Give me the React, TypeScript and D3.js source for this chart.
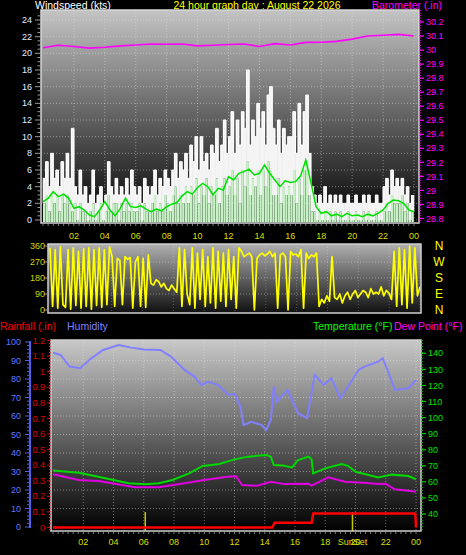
import React from 'react';
import * as d3 from 'd3';

// ---------- DATA ----------
// wind gust (kts), 10-minute samples from 00:00
const windGust = [
  5,7,4,8,5,6, 4,7,5,8,5,11, 4,3,6,3,4,2, 3,6,2,3,4,2, 3,7,4,3,5,3, 4,3,5,3,6,4,
  3,4,2,5,4,3, 4,6,3,5,4,6, 5,4,6,8,5,7, 6,8,5,9,7,10, 6,10,7,8,6,9, 8,11,7,9,12,8,
  10,13,8,12,9,13, 11,18,9,12,10,14, 11,13,9,15,16,11, 9,12,8,11,9,10, 10,13,8,14,9,13, 15,8,4,3,2,3,
  2,4,2,3,2,3, 2,3,2,2,3,2, 2,3,2,2,3,2, 3,2,2,3,2,2, 4,5,3,6,4,5, 4,5,3,4,2,3,
];
// wind speed (kts), 10-minute samples
const windSpeed = [
  2,3,1,3,2,3, 1,3,2,3,2,1, 2,0,2,1,1,0, 1,2,0,1,2,0, 1,3,1,2,2,0, 2,1,2,1,2,1,
  1,2,0,2,1,1, 2,3,1,2,1,3, 2,1,3,4,2,3, 2,4,2,4,3,5, 2,4,3,5,2,4, 3,5,2,4,5,3,
  4,6,3,5,2,6, 4,7,3,5,4,6, 3,6,4,7,6,3, 3,5,2,4,3,4, 3,6,2,5,3,6, 7,3,1,1,0,1,
  0,1,0,1,0,1, 0,1,0,0,1,0, 0,1,0,0,1,0, 1,0,0,1,0,0, 1,2,1,3,2,2, 2,3,1,2,0,1,
];
// 10-minute average wind (kts), 20-minute samples
const windAvg = [
  2.2,2.6,3.4,2.8,3.1,2.6,1.4,1.6,1.2,0.6,0.4,1.2,2.2,1.2,0.5,1.4,2.6,1.6,
  1.5,1.7,1.3,1.0,1.3,1.1,1.6,1.9,2.1,2.9,3.4,3.1,3.9,4.4,4.0,3.0,3.8,3.6,
  5.2,4.8,5.6,5.8,6.1,5.4,5.6,6.6,5.6,4.8,4.0,4.7,4.5,4.6,5.3,7.2,4.5,1.6,
  0.8,1.0,0.5,0.7,0.4,0.8,0.5,0.6,0.4,0.7,0.5,0.8,1.2,2.0,2.4,2.3,2.0,1.2,1.0,
];
// barometer (in), hourly
const baro = [
  30.016,30.034,30.026,30.014,30.02,30.03,30.036,30.043,30.042,30.043,30.03,30.034,30.04,
  30.043,30.026,30.046,30.036,30.055,30.056,30.062,30.078,30.1,30.106,30.112,30.1,
];
// wind direction (deg), 10-minute samples
const windDir = [
  350,20,340,10,355,30, 15,340,5,350,25,330, 10,345,20,350,5,340, 25,350,15,340,30,355,
  300,20,290,280,30,300, 285,295,10,270,300,20, 290,15,310,150,140,170, 160,130,150,120,110,140,
  120,100,350,20,340,90, 30,350,10,320,60,340, 20,300,40,350,10,330, 50,320,20,340,60,300,
  10,350,330,300,310,320, 300,0,290,310,320,305, 315,330,300,320,10,310, 320,300,0,330,310,315,
  300,340,10,320,290,310, 300,320,20,60,40,80, 50,300,70,60,90,40, 80,100,60,90,110,70,
  90,110,100,70,120,90, 100,90,130,80,110,95, 60,330,20,350,30,340, 10,360,40,350,80,130,
];
// humidity (%)
const humTimes = [0,0.5,1.1,1.8,2.4,3.3,4.35,5.1,6,7.1,7.8,8.7,9.35,9.8,10.25,10.9,11.6,12,12.4,12.6,13.1,13.8,14.1,14.4,14.6,14.8,15.5,16.2,16.8,17.3,17.9,18.4,19,19.5,20.2,20.6,21.5,21.8,22.2,22.6,23.5,24];
const humValues = [94.2,93,86.7,85.8,90.3,95.7,98.4,97.1,96,95.7,92.1,84.9,81.3,76.8,78.5,76.8,71.4,72,65,55.1,56.9,55.1,52.4,57.8,75.8,67.7,74.1,61.5,58.8,82.2,76.8,80.4,69.6,75.8,84.9,86.7,89.4,91.2,83.1,74.1,75,79.5];
// temperature (F)
const tempTimes = [0,1.7,3,5,6.1,7,7.9,9,9.9,11,12,12.9,13.5,14.15,14.4,14.6,15.2,15.8,16.2,16.9,17.1,17.2,18,19.1,19.5,20,21,21.5,22.4,23.5,24];
const tempValues = [67,65.7,63.2,59.1,58.5,59.1,61.2,65.3,69.9,71.1,74,75.7,76.2,76.7,75.5,70.5,70.2,69,73.6,75.7,74,65.3,68.4,71.1,70,66.3,64,62.8,64.5,63.6,61.6];
// dew point (F)
const dewTimes = [0,1.7,3,3.9,5.4,7,8.7,10,11.5,12.1,12.5,13.5,14.4,15.3,16.9,17.1,18.2,19.3,20.5,21.5,22,22.6,23.5,24];
const dewValues = [64.7,61.2,60.5,59.1,56.6,56.6,59.1,61.2,63.2,63.5,58,57.6,60.1,58.6,58.8,57.6,62.8,60.1,59.5,58.6,58.8,55.4,54.5,53.9];
// rainfall (in)
const rainTimes = [0,14.5,14.65,17.1,17.2,23.95,24];
const rainValues = [0,0,0.03,0.03,0.09,0.09,0];

const hourLabels = ['02','04','06','08','10','12','14','16','18','20','22','00'];
const windTicks = [0,2,4,6,8,10,12,14,16,18,20,22,24];
const baroTicks = [28.8,28.9,29,29.1,29.2,29.3,29.4,29.5,29.6,29.7,29.8,29.9,30,30.1,30.2];
const dirTicks = [0,90,180,270,360];
const compass = ['N','E','S','W','N'];
const humTicks = [0,10,20,30,40,50,60,70,80,90,100];
const rainTicks = [0,0.1,0.2,0.3,0.4,0.5,0.6,0.7,0.8,0.9,1,1.1,1.2];
const tempTicks = [40,50,60,70,80,90,100,110,120,130,140];
const sunrise = 6.1;
const sunset = 19.8;

const FONT = 'Liberation Sans, Arial, sans-serif';

export default function App() {
  // scales
  const xW = d3.scaleLinear().domain([0, 24]).range([43, 414]);
  const yW = d3.scaleLinear().domain([0, 24]).range([220, 20]);
  const yB = d3.scaleLinear().domain([28.8, 30.2]).range([218.5, 22]);
  const xD = d3.scaleLinear().domain([0, 24]).range([50, 420]);
  const yD = d3.scaleLinear().domain([0, 360]).range([310, 246]);
  const xT = d3.scaleLinear().domain([0, 24]).range([53, 416]);
  const yH = d3.scaleLinear().domain([0, 100]).range([527, 342]);
  const yR = d3.scaleLinear().domain([0, 1.2]).range([527.5, 340.5]);
  const yT = d3.scaleLinear().domain([40, 140]).range([514, 353.3]);

  const step = xW(1 / 6) - xW(0);
  const hours2 = d3.range(2, 25, 2);

  const gustLine = d3.line<number>().curve(d3.curveStepAfter).x((_, i) => xW(i / 6)).y(d => yW(d))(windGust) || '';
  const avgLine = d3.line<number>().x((_, i) => xW(i / 3)).y(d => yW(d))(windAvg) || '';
  const baroLine = d3.line<number>().x((_, i) => xW(i)).y(d => yB(d))(baro) || '';
  const dirLine = d3.line<number>().x((_, i) => xD((i * 24) / (windDir.length - 1))).y(d => yD(d))(windDir) || '';
  const pairLine = (ts: number[], vs: number[], ys: d3.ScaleLinear<number, number>) =>
    d3.line<number>().x((_, i) => xT(ts[i])).y(d => ys(d))(vs) || '';
  const humLine = pairLine(humTimes, humValues, yH);
  const tempLine = pairLine(tempTimes, tempValues, yT);
  const dewLine = pairLine(dewTimes, dewValues, yT);
  const rainLine = pairLine(rainTimes, rainValues, yR);

  const gridStroke = 'rgba(230,230,230,0.45)';

  return (
    <svg width={466} height={555} style={{ position: 'absolute', left: 0, top: 0, background: '#000' }} fontFamily={FONT}>
      <defs>
        <linearGradient id="gW" x1="0" y1="0" x2="0" y2="1">
          <stop offset="0" stopColor="#c4c4c4" />
          <stop offset="1" stopColor="#000" />
        </linearGradient>
        <linearGradient id="gD" x1="0" y1="0" x2="0" y2="1">
          <stop offset="0" stopColor="#b0b0b0" />
          <stop offset="1" stopColor="#101010" />
        </linearGradient>
        <linearGradient id="gB" x1="0" y1="0" x2="0" y2="1">
          <stop offset="0" stopColor="#c8c8c8" />
          <stop offset="1" stopColor="#000" />
        </linearGradient>
      </defs>
      <rect x={0} y={0} width={466} height={555} fill="#000" />

      {/* ---------- headers ---------- */}
      <text x={35} y={8.5} fontSize={10.5} fill="#fff">Windspeed (kts)</text>
      <text x={257} y={8.5} fontSize={10.5} fill="#ffff00" textAnchor="middle">24 hour graph day : August 22 2026</text>
      <text x={372} y={8.5} fontSize={10.5} fill="#ff00ff">Barometer (.in)</text>

      {/* ---------- wind panel ---------- */}
      <rect x={41} y={10} width={378} height={213} fill="url(#gW)" />
      {windTicks.map(v => (
        <line key={'wg' + v} x1={41} x2={419} y1={yW(v)} y2={yW(v)} stroke={gridStroke} strokeDasharray="1,2" />
      ))}
      {hours2.map(h => (
        <line key={'wv' + h} x1={xW(h)} x2={xW(h)} y1={10} y2={223} stroke={gridStroke} strokeDasharray="1,2" />
      ))}
      {windGust.map((g, i) => (
        <rect key={'gu' + i} x={xW(i / 6) - 0.3} width={step + 0.6} y={yW(g)} height={Math.max(0, yW(windSpeed[i]) - yW(g))} fill="#f4f4f4" />
      ))}
      <path d={gustLine} fill="none" stroke="#ffffff" strokeWidth={1} />
      {windSpeed.map((s, i) => (
        <rect key={'sp' + i} x={xW(i / 6)} width={step - 0.2} y={yW(s)} height={yW(0) - yW(s) + 2} fill="#c6f2c6" />
      ))}
      <path d={avgLine} fill="none" stroke="#00e000" strokeWidth={1.5} />
      <path d={baroLine} fill="none" stroke="#ff00ff" strokeWidth={1.6} />
      <rect x={41} y={10} width={378} height={213} fill="none" stroke="#d8d8d8" strokeWidth={1.5} />
      {/* left axis */}
      {d3.range(0, 25, 0.5).map(v => (
        <line key={'wt' + v} x1={v % 2 === 0 ? 35 : 37.5} x2={40} y1={yW(v)} y2={yW(v)} stroke="#9a9a9a" strokeWidth={1} />
      ))}
      {windTicks.map(v => (
        <text key={'wl' + v} x={32} y={yW(v)} dy="0.35em" fontSize={9} fill="#e4ecff" textAnchor="end">{v}</text>
      ))}
      {/* right barometer axis */}
      <line x1={420} x2={420} y1={10} y2={223} stroke="#ff00ff" strokeWidth={1.5} strokeDasharray="1,1.5" />
      {baroTicks.map(v => (
        <g key={'bt' + v}>
          <line x1={420} x2={424} y1={yB(v)} y2={yB(v)} stroke="#ff00ff" strokeWidth={1.2} />
          <text x={426} y={yB(v)} dy="0.35em" fontSize={9} fill="#ff00ff">{String(Math.round(v * 10) / 10)}</text>
        </g>
      ))}
      {/* bottom minor ticks */}
      {d3.range(0, 24.01, 1 / 3).map((t, i) => (
        <line key={'wbt' + i} x1={xW(t)} x2={xW(t)} y1={224} y2={226} stroke="#777" />
      ))}
      {hours2.map((h, i) => (
        <text key={'wx' + h} x={xW(h)} y={236} dy="0.35em" fontSize={9} fill="#dede00" textAnchor="middle">{hourLabels[i]}</text>
      ))}

      {/* ---------- direction panel ---------- */}
      <rect x={48} y={244} width={373} height={69} fill="url(#gD)" />
      {[90, 180, 270].map(v => (
        <line key={'dg' + v} x1={48} x2={421} y1={yD(v)} y2={yD(v)} stroke={gridStroke} strokeDasharray="1,2" />
      ))}
      {hours2.map(h => (
        <line key={'dv' + h} x1={xD(h)} x2={xD(h)} y1={244} y2={313} stroke="rgba(230,230,230,0.3)" strokeDasharray="1,2" />
      ))}
      <path d={dirLine} fill="none" stroke="#ffff00" strokeWidth={1.7} strokeLinejoin="round" />
      <rect x={48} y={244} width={373} height={69} fill="none" stroke="#d0d0d0" strokeWidth={1.5} />
      {dirTicks.map(v => (
        <g key={'dt' + v}>
          <line x1={44} x2={48} y1={yD(v)} y2={yD(v)} stroke="#9a9a9a" />
          <text x={45} y={yD(v)} dy="0.35em" fontSize={9} fill="#d4d400" textAnchor="end">{v}</text>
          <text x={439} y={yD(v)} dy="0.36em" fontSize={12} fill="#ffff00" textAnchor="middle">{compass[dirTicks.indexOf(v)]}</text>
        </g>
      ))}

      {/* ---------- bottom headers ---------- */}
      <text x={0} y={330} fontSize={10.5} fill="#ff0000">Rainfall (.in)</text>
      <text x={67} y={330} fontSize={10.5} fill="#8080ff">Humidity</text>
      <text x={313} y={330} fontSize={10.5} fill="#00ff00">Temperature (°F)</text>
      <text x={394} y={330} fontSize={10.5} fill="#ff00ff">Dew Point (°F)</text>

      {/* ---------- bottom panel ---------- */}
      <rect x={51} y={340} width={370} height={191} fill="url(#gB)" />
      {humTicks.slice(1, 10).map(v => (
        <line key={'hg' + v} x1={51} x2={421} y1={yH(v)} y2={yH(v)} stroke={gridStroke} strokeDasharray="1,2" />
      ))}
      {hours2.map(h => (
        <line key={'bv' + h} x1={xT(h)} x2={xT(h)} y1={340} y2={531} stroke={gridStroke} strokeDasharray="1,2" />
      ))}
      <path d={humLine} fill="none" stroke="#8080ff" strokeWidth={2} />
      <path d={tempLine} fill="none" stroke="#00d800" strokeWidth={2} />
      <path d={dewLine} fill="none" stroke="#e000e0" strokeWidth={2} />
      {[sunrise, sunset].map(t => (
        <line key={'sun' + t} x1={xT(t)} x2={xT(t)} y1={512} y2={531} stroke="#c8c800" strokeWidth={1.5} />
      ))}
      <path d={rainLine} fill="none" stroke="#ff0000" strokeWidth={2.5} />
      <rect x={51} y={340} width={370} height={191} fill="none" stroke="#cfcfcf" strokeWidth={1.5} />
      {/* rainfall axis */}
      <line x1={50} x2={50} y1={340} y2={531} stroke="#ff3030" strokeWidth={1.5} strokeDasharray="1,2" />
      {rainTicks.map(v => (
        <g key={'rt' + v}>
          <line x1={47} x2={50} y1={yR(v)} y2={yR(v)} stroke="#e00000" />
          <text x={45} y={yR(v)} dy="0.35em" fontSize={9} fill="#e00000" textAnchor="end">{String(Math.round(v * 10) / 10)}</text>
        </g>
      ))}
      {/* humidity axis */}
      <line x1={30} x2={30} y1={341} y2={528} stroke="#5060e8" strokeWidth={2} />
      {d3.range(0, 101, 2).map(v => (
        <line key={'ht' + v} x1={v % 10 === 0 ? 25 : 27} x2={30} y1={yH(v)} y2={yH(v)} stroke="#5060e8" strokeWidth={1} />
      ))}
      {humTicks.map(v => (
        <text key={'hl' + v} x={21} y={yH(v)} dy="0.35em" fontSize={9} fill="#6078ff" textAnchor="end">{v}</text>
      ))}
      {/* temperature axis */}
      <line x1={422} x2={422} y1={340} y2={531} stroke="#00c000" strokeWidth={1.5} strokeDasharray="1,2" />
      {tempTicks.map(v => (
        <g key={'tt' + v}>
          <line x1={422} x2={426} y1={yT(v)} y2={yT(v)} stroke="#00d000" strokeWidth={1.2} />
          <text x={428} y={yT(v)} dy="0.35em" fontSize={9} fill="#00e000">{v}</text>
        </g>
      ))}
      {d3.range(0, 24.01, 1 / 3).map((t, i) => (
        <line key={'bbt' + i} x1={xT(t)} x2={xT(t)} y1={532} y2={534} stroke="#777" />
      ))}
      {hours2.map((h, i) => (
        <text key={'bx' + h} x={xT(h)} y={542} dy="0.35em" fontSize={9} fill="#dede00" textAnchor="middle">{hourLabels[i]}</text>
      ))}
      <text x={xT(sunset)} y={542} dy="0.35em" fontSize={9} fill="#dede00" textAnchor="middle">SunSet</text>
    </svg>
  );
}
